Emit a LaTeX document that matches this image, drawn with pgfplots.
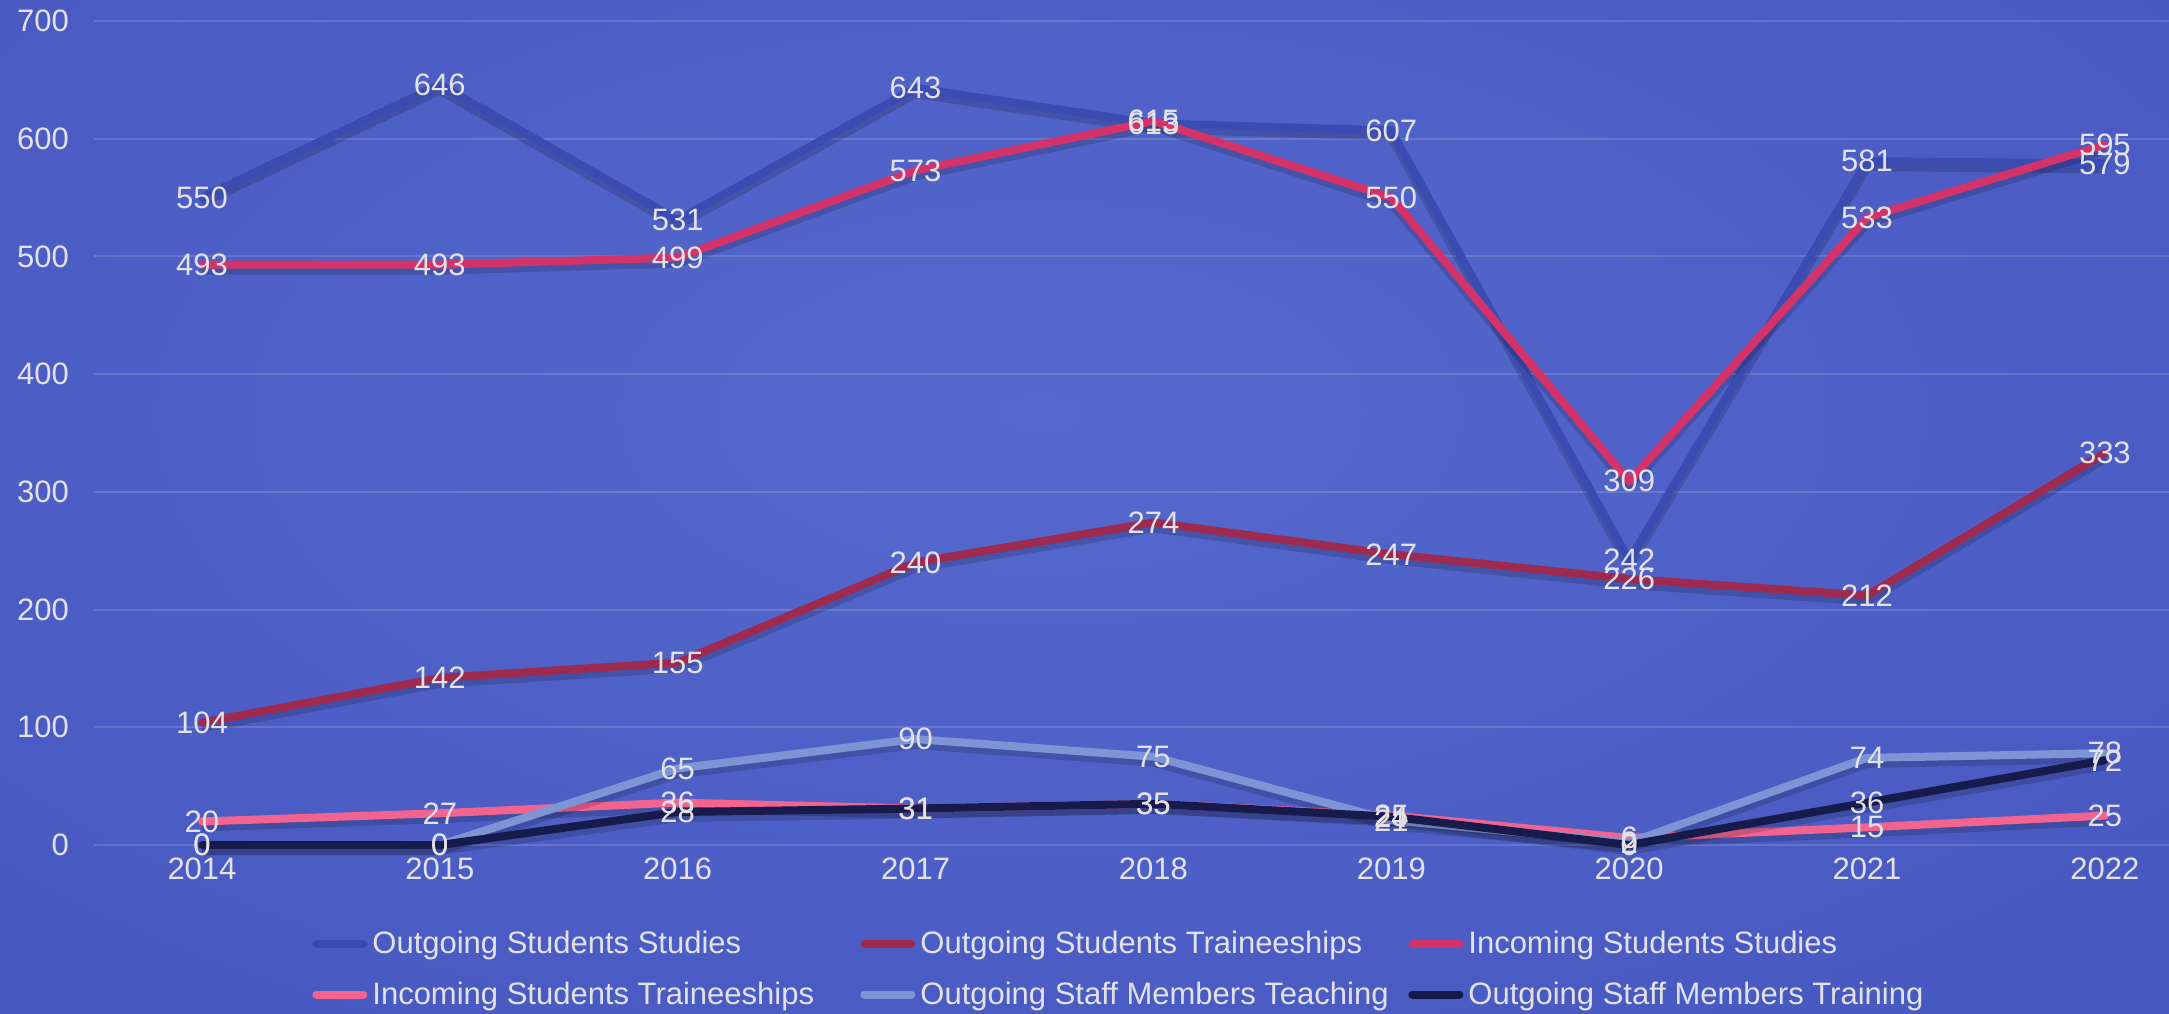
\documentclass[border=0pt]{standalone}
\usepackage{fontspec}
\setmainfont{Liberation Sans}
\usepackage{pgfplots}
\usepackage{pgfplotstable}
\pgfplotsset{compat=1.18}
\definecolor{cOSS}{HTML}{3A4BB2}
\definecolor{cOST}{HTML}{9E2A50}
\definecolor{cISS}{HTML}{D4336A}
\definecolor{cIST}{HTML}{F2648F}
\definecolor{cSTT}{HTML}{7E95D5}
\definecolor{cSTR}{HTML}{161B4C}
\definecolor{labc}{HTML}{E2E2E6}
\definecolor{bgin}{HTML}{5669CE}
\definecolor{bgout}{HTML}{3646B2}
\newcommand\cf{\fontsize{15.5pt}{18pt}\selectfont}
\pgfplotstableread{
year OSS OST ISS IST STT STR
2014 550 104 493 20 0 0
2015 646 142 493 27 0 0
2016 531 155 499 36 65 28
2017 643 240 573 31 90 31
2018 613 274 615 35 75 35
2019 607 247 550 25 21 24
2020 242 226 309 6 2 0
2021 581 212 533 15 74 36
2022 579 333 595 25 78 72
}\datatable
\pgfdeclareradialshading{bgshade}{\pgfpoint{0bp}{0bp}}{color(0bp)=(bgin); color(50bp)=(bgout)}
\begin{document}
\begin{tikzpicture}
\begin{scope}
\clip (0,0) rectangle (1084.5pt,506.5pt);
\shade[shading=bgshade] (-293pt,-105pt) rectangle (1333pt,705pt);
\end{scope}
\begin{axis}[
  at={(47pt,84pt)}, anchor=south west,
  scale only axis, width=1037.5pt, height=412pt,
  xmin=2013.546, xmax=2022.27, ymin=0, ymax=700,
  xtick={2014,2015,...,2022}, ytick={0,100,...,700},
  ymajorgrids, grid style={white, opacity=0.14, line width=1pt},
  axis line style={draw=none}, major tick length=0pt, tick style={draw=none},
  /pgf/number format/assume math mode=true,
  /pgf/number format/1000 sep={},
  tick label style={font=\cf, text=labc},
  yticklabel style={xshift=-9pt},
  xticklabel style={yshift=-3pt},
  clip=false,
  every node near coord/.append style={anchor=center, font=\cf, text=labc, inner sep=0pt},
  legend columns=3,
  legend cell align=left,
  legend style={draw=none, fill=none, at={(0,0)}, anchor=north west, xshift=109pt, yshift=-43pt,
    font=\cf, column sep=0pt, row sep=12.5pt, inner sep=0pt, nodes={inner sep=0pt, text=labc}},
  legend image code/.code={\draw[line width=4pt, line cap=round] (2pt,0pt) -- (25.5pt,0pt);},
  shadow/.style={forget plot, black, opacity=0.16, line width=5pt, line join=round, transform canvas={yshift=-2.5pt}},
  ser/.style={line width=4pt, line join=round, line cap=round},
  lab/.style={forget plot, draw=none, no marks, nodes near coords, point meta=y},
]
\addplot[shadow] table[x=year,y=OSS]{\datatable};
\addplot[ser, cOSS] table[x=year,y=OSS]{\datatable};
\addlegendentry{\makebox[246.5pt][l]{\hskip2.5pt Outgoing Students Studies}}
\addplot[shadow] table[x=year,y=OST]{\datatable};
\addplot[ser, cOST] table[x=year,y=OST]{\datatable};
\addlegendentry{\makebox[246.5pt][l]{\hskip2.5pt Outgoing Students Traineeships}}
\addplot[shadow] table[x=year,y=ISS]{\datatable};
\addplot[ser, cISS] table[x=year,y=ISS]{\datatable};
\addlegendentry{\makebox[246.5pt][l]{\hskip2.5pt Incoming Students Studies}}
\addplot[shadow] table[x=year,y=IST]{\datatable};
\addplot[ser, cIST] table[x=year,y=IST]{\datatable};
\addlegendentry{\makebox[246.5pt][l]{\hskip2.5pt Incoming Students Traineeships}}
\addplot[shadow] table[x=year,y=STT]{\datatable};
\addplot[ser, cSTT] table[x=year,y=STT]{\datatable};
\addlegendentry{\makebox[246.5pt][l]{\hskip2.5pt Outgoing Staff Members Teaching}}
\addplot[shadow] table[x=year,y=STR]{\datatable};
\addplot[ser, cSTR] table[x=year,y=STR]{\datatable};
\addlegendentry{\makebox[246.5pt][l]{\hskip2.5pt Outgoing Staff Members Training}}
\addplot[lab] table[x=year,y=OSS]{\datatable};
\addplot[lab] table[x=year,y=OST]{\datatable};
\addplot[lab] table[x=year,y=ISS]{\datatable};
\addplot[lab] table[x=year,y=IST]{\datatable};
\addplot[lab] table[x=year,y=STT]{\datatable};
\addplot[lab] table[x=year,y=STR]{\datatable};
\end{axis}
\pgfresetboundingbox
\path (0,0) rectangle (1084.5pt,506.5pt);
\end{tikzpicture}
\end{document}
